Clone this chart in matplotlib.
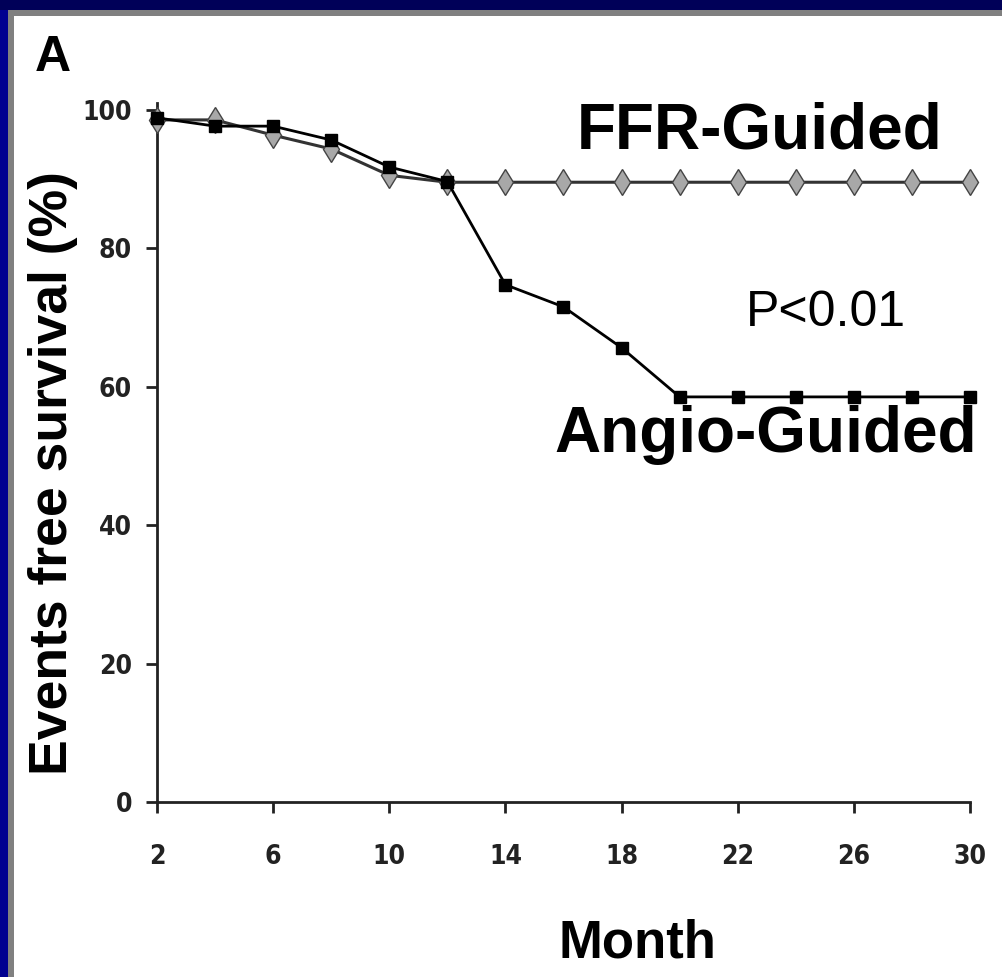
import matplotlib
matplotlib.use("Agg")
import matplotlib.pyplot as plt
from matplotlib.patches import Rectangle
from matplotlib import font_manager

months = [2, 4, 6, 8, 10, 12, 14, 16, 18, 20, 22, 24, 26, 28, 30]
ffr_guided = [98.5, 98.5, 96.3, 94.3, 90.5, 89.5, 89.5, 89.5, 89.5, 89.5, 89.5, 89.5, 89.5, 89.5, 89.5]
angio_guided = [98.8, 97.6, 97.6, 95.6, 91.7, 89.6, 74.7, 71.5, 65.6, 58.5, 58.5, 58.5, 58.5, 58.5, 58.5]
x_ticks = [2, 6, 10, 14, 18, 22, 26, 30]
y_ticks = [0, 20, 40, 60, 80, 100]

names = {f.name for f in font_manager.fontManager.ttflist}
condensed_files = [f for f in font_manager.fontManager.ttflist
                   if f.name == "DejaVu Sans" and "ondensed" in f.fname and f.weight in (700, "bold")]
if "Liberation Sans Narrow" in names:
    tick_kw = dict(family="Liberation Sans Narrow", fontweight="bold")
elif condensed_files:
    tick_kw = dict(family="DejaVu Sans", fontweight="bold", fontstretch="condensed")
else:
    tick_kw = dict(family="Liberation Sans", fontweight="bold")
bold_font = "Liberation Sans"

W, H = 1003, 977
fig = plt.figure(figsize=(W / 100, H / 100), dpi=100, facecolor="#000090")

def px_rect(x0, y0, x1, y1, color):
    fig.patches.append(Rectangle((x0 / W, 1 - y1 / H), (x1 - x0) / W, (y1 - y0) / H,
                                 transform=fig.transFigure, facecolor=color,
                                 edgecolor="none", zorder=-10))

px_rect(0, 0, W, 10, "#000058")
px_rect(8, 10, W, H, "#808080")
px_rect(14, 16, W, H, "white")

ax = fig.add_axes([157 / W, 175 / H, (970 - 157) / W, 699.4 / H])
ax.set_facecolor("none")

ax.plot(months, ffr_guided, color="#333333", lw=2.2, marker="d", markersize=13,
        markerfacecolor="#a8a8a8", markeredgecolor="#444444", markeredgewidth=1.0,
        clip_on=False, zorder=3)
ax.plot(months, angio_guided, color="black", lw=2.0, marker="s", markersize=9,
        markerfacecolor="black", markeredgecolor="black", clip_on=False, zorder=4)

ax.set_xlim(2, 30)
ax.set_ylim(0, 101)
ax.set_xticks(x_ticks)
ax.set_yticks(y_ticks)
ax.set_xticklabels([str(t) for t in x_ticks], fontsize=19, color="#222222", **tick_kw)
ax.set_yticklabels([str(t) for t in y_ticks], fontsize=19, color="#222222", **tick_kw)
ax.tick_params(axis="x", direction="out", length=8, width=2, color="#222222", pad=22)
ax.tick_params(axis="y", direction="out", length=8, width=2, color="#222222", pad=10)
for s in ["top", "right"]:
    ax.spines[s].set_visible(False)
for s in ["left", "bottom"]:
    ax.spines[s].set_linewidth(2)
    ax.spines[s].set_color("#222222")

fig.text(35 / W, 1 - 58 / H, "A", family=bold_font, fontweight="bold", fontsize=36,
         ha="left", va="center", color="black")
fig.text(760 / W, 1 - 132 / H, "FFR-Guided", family=bold_font, fontweight="bold",
         fontsize=46, ha="center", va="center", color="black")
fig.text(766 / W, 1 - 435 / H, "Angio-Guided", family=bold_font, fontweight="bold",
         fontsize=46, ha="center", va="center", color="black")
fig.text(826 / W, 1 - 313 / H, "P<0.01", family=bold_font, fontsize=36,
         ha="center", va="center", color="black")
fig.text(637 / W, 1 - 943 / H, "Month", family=bold_font, fontweight="bold",
         fontsize=38, ha="center", va="center", color="black")
fig.text(53 / W, 1 - 473 / H, "Events free survival (%)", family=bold_font,
         fontweight="bold", fontsize=38.5, rotation=90, ha="center", va="center",
         color="black")

fig.savefig("out.png", dpi=100, facecolor=fig.get_facecolor())
